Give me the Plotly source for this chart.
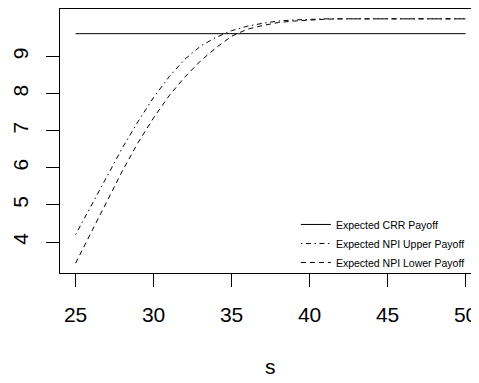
import plotly.graph_objects as go

# values
s_vals = list(range(25, 51))
crr_payoff = [9.62] * len(s_vals)
npi_upper = [4.20, 4.98, 5.76, 6.54, 7.25, 7.90, 8.46, 8.93, 9.28, 9.52,
             9.70, 9.82, 9.90, 9.96, 9.99, 10.01, 10.02, 10.02, 10.02, 10.02,
             10.02, 10.02, 10.02, 10.02, 10.02, 10.02]
npi_lower = [3.43, 4.27, 5.10, 5.92, 6.68, 7.35, 7.95, 8.45, 8.88, 9.24,
             9.55, 9.74, 9.84, 9.92, 9.96, 9.99, 10.01, 10.02, 10.02, 10.02,
             10.02, 10.02, 10.02, 10.02, 10.02, 10.02]

x_ticks = [25, 30, 35, 40, 45, 50]
y_ticks = [4, 5, 6, 7, 8, 9]

FONT = "Liberation Sans, Arial, sans-serif"

fig = go.Figure()
fig.add_trace(go.Scatter(x=s_vals, y=crr_payoff, mode="lines", name="Expected CRR Payoff",
                         line=dict(color="black", width=1)))
fig.add_trace(go.Scatter(x=s_vals, y=npi_upper, mode="lines", name="Expected NPI Upper Payoff",
                         line=dict(color="black", width=1, dash="1.5px,3.5px,5px,3.5px")))
fig.add_trace(go.Scatter(x=s_vals, y=npi_lower, mode="lines", name="Expected NPI Lower Payoff",
                         line=dict(color="black", width=1, dash="5px,4px")))

# the page body has an 8px margin, so the figure is sized/shifted to compensate
fig.update_layout(
    width=471, height=375,
    margin=dict(l=52, r=0, t=1, b=110),
    plot_bgcolor="white", paper_bgcolor="white",
    font=dict(family=FONT, color="black", size=21),
    showlegend=True,
    legend=dict(x=0.563, y=-0.015, xanchor="left", yanchor="bottom",
                bgcolor="rgba(0,0,0,0)", font=dict(size=10.5), tracegroupgap=0),
    xaxis=dict(range=[24, 50.86], tickvals=x_ticks, ticks="outside", ticklen=13,
               tickwidth=1, tickcolor="black", showline=True, linecolor="black",
               linewidth=1, mirror=True, showgrid=False, zeroline=False,
               ticklabelstandoff=10, automargin=False),
    yaxis=dict(range=[3.165, 10.285], tickvals=y_ticks, ticks="outside", ticklen=13,
               tickwidth=1, tickcolor="black", showline=True, linecolor="black",
               linewidth=1, showgrid=False, zeroline=False, tickangle=-90,
               ticklabelstandoff=10, automargin=False),
    annotations=[dict(text="s", xref="x", x=37.5, yref="paper", y=0, yshift=-93,
                      showarrow=False, yanchor="middle", font=dict(size=21))],
)

fig.write_html("out.html")
